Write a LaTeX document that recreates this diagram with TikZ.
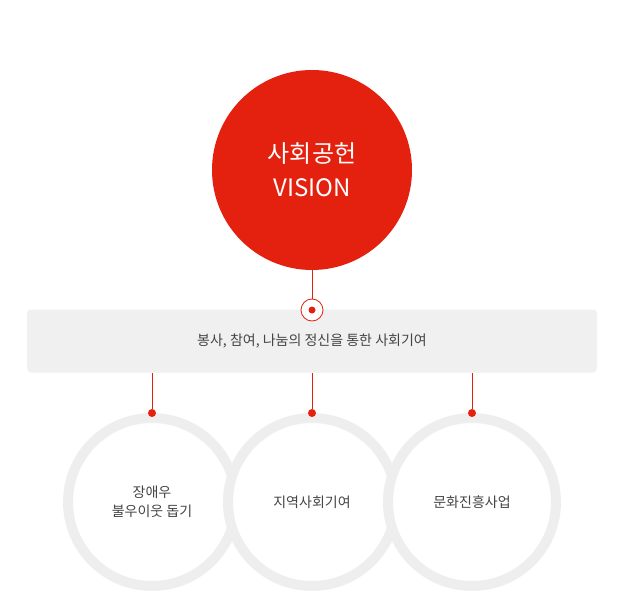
\documentclass[tikz,border=0pt]{standalone}
\usepackage{fontspec}
\setmainfont{Noto Sans CJK KR}
\definecolor{vred}{HTML}{E4200E}
\definecolor{barg}{HTML}{F0F0F0}
\definecolor{ringg}{HTML}{EEEEEE}
\definecolor{txt}{HTML}{444444}
\begin{document}
\begin{tikzpicture}[x=1pt,y=-1pt,
  ring/.style={circle,draw=ringg,line width=10pt,fill=white,minimum size=168pt,inner sep=0pt,text=txt,font=\fontsize{14}{19}\selectfont,align=center},
  conn/.style={vred,line width=0.8pt},
  dotc/.style={circle,fill=vred,minimum size=8pt,inner sep=0pt}]
\useasboundingbox (0,0) rectangle (624,604);
\node[circle,fill=vred,minimum size=200pt,inner sep=0pt,text=white,align=center,font=\fontsize{24}{34}\selectfont] (main) at (312,170) {사회공헌\\VISION};
\node[rounded corners=4pt,fill=barg,minimum width=570pt,minimum height=63pt,inner sep=0pt,text=txt,font=\fontsize{14}{18}\selectfont] (bar) at (312,341) {봉사, 참여, 나눔의 정신을 통한 사회기여};
\node[circle,draw=vred,fill=white,line width=0.8pt,minimum size=22pt,inner sep=0pt] (mk) at (312,310) {};
\node[dotc,minimum size=7pt] (mkd) at (mk) {};
\draw[conn] (main.south) -- (mk.north);
\node[ring] (c1) at (152,502) {장애우\\불우이웃 돕기};
\node[ring] (c2) at (312,502) {지역사회기여};
\node[ring] (c3) at (472,502) {문화진흥사업};
\foreach \x/\n in {152/a,312/b,472/c}{
  \coordinate (t\n) at (\x,373);
  \node[dotc] (d\n) at (\x,413) {};
  \draw[conn] (t\n) -- (d\n);
}
\end{tikzpicture}
\end{document}
